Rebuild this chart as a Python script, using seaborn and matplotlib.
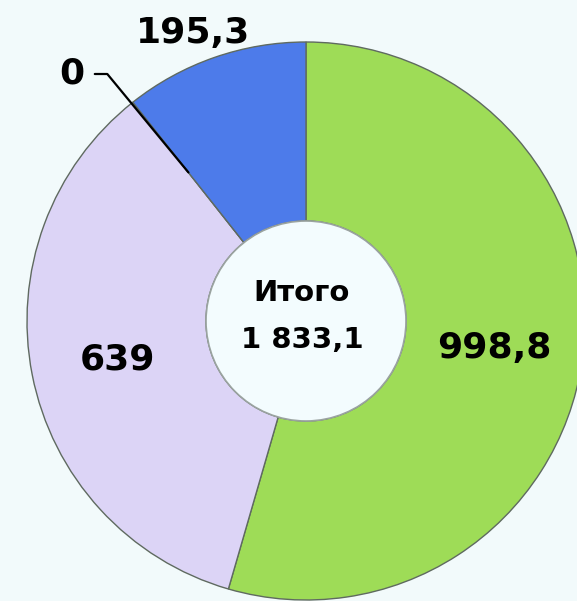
import numpy as np
import matplotlib
matplotlib.use("Agg")
import matplotlib.pyplot as plt
import seaborn as sns

# ---- data ----
categories = ["A", "B", "C", "D"]
values = [998.8, 639.0, 0.0, 195.3]
value_labels = ["998,8", "639", "0", "195,3"]
colors = ["#9EDC57", "#DCD4F6", "#DCD4F6", "#4D7BEA"]
total_title = "Итого"
total_label = "1 833,1"

sns.set_theme(style="white")
plt.rcParams["font.family"] = ["DejaVu Sans"]

W, H = 577, 601
fig = plt.figure(figsize=(W / 100, H / 100), dpi=100)
bg = "#F2FAFB"
fig.patch.set_facecolor(bg)
ax = fig.add_axes([0, 0, 1, 1])
ax.set_facecolor(bg)

cx, cy = 306, 280
R_out, R_in = 279, 100

wedges, _ = ax.pie(values, colors=colors, startangle=90, counterclock=False,
                   radius=R_out, center=(cx, cy),
                   wedgeprops=dict(width=R_out - R_in, edgecolor="#5f6a60",
                                   linewidth=1.0))

# inner hole
hole = plt.Circle((cx, cy), R_in, facecolor="#F3FCFE", edgecolor="#9aa3a0",
                  linewidth=1.2, zorder=3)
ax.add_patch(hole)

ax.set_xlim(0, W)
ax.set_ylim(0, H)
ax.set_aspect("equal")
ax.axis("off")

fs = 26
ax.text(494, 253, value_labels[0], ha="center", va="center",
        fontsize=fs, fontweight="bold", color="black", zorder=5)
ax.text(118, 241, value_labels[1], ha="center", va="center",
        fontsize=fs, fontweight="bold", color="black", zorder=5)
ax.text(193, 568, value_labels[3], ha="center", va="center",
        fontsize=fs, fontweight="bold", color="black", zorder=5)

# zero slice label with leader line
cum = np.cumsum([0] + values)
frac = cum[2] / cum[-1]
ang = np.deg2rad(90 - 360 * frac)
r_mid = (R_out + R_in) / 2
px, py = cx + r_mid * np.cos(ang), cy + r_mid * np.sin(ang)
ax.annotate(value_labels[2], xy=(px, py), xytext=(72, 527),
            ha="center", va="center", fontsize=fs, fontweight="bold",
            color="black", zorder=6,
            arrowprops=dict(arrowstyle="-", color="black", lw=1.6,
                            shrinkA=5, shrinkB=0,
                            connectionstyle="angle,angleA=0,angleB=129.5,rad=0"))

ax.text(302, 308, total_title, ha="center", va="center",
        fontsize=21, fontweight="bold", color="black", zorder=5)
ax.text(302, 261, total_label, ha="center", va="center",
        fontsize=21, fontweight="bold", color="black", zorder=5)

fig.savefig("out.png", dpi=100, facecolor=bg)
